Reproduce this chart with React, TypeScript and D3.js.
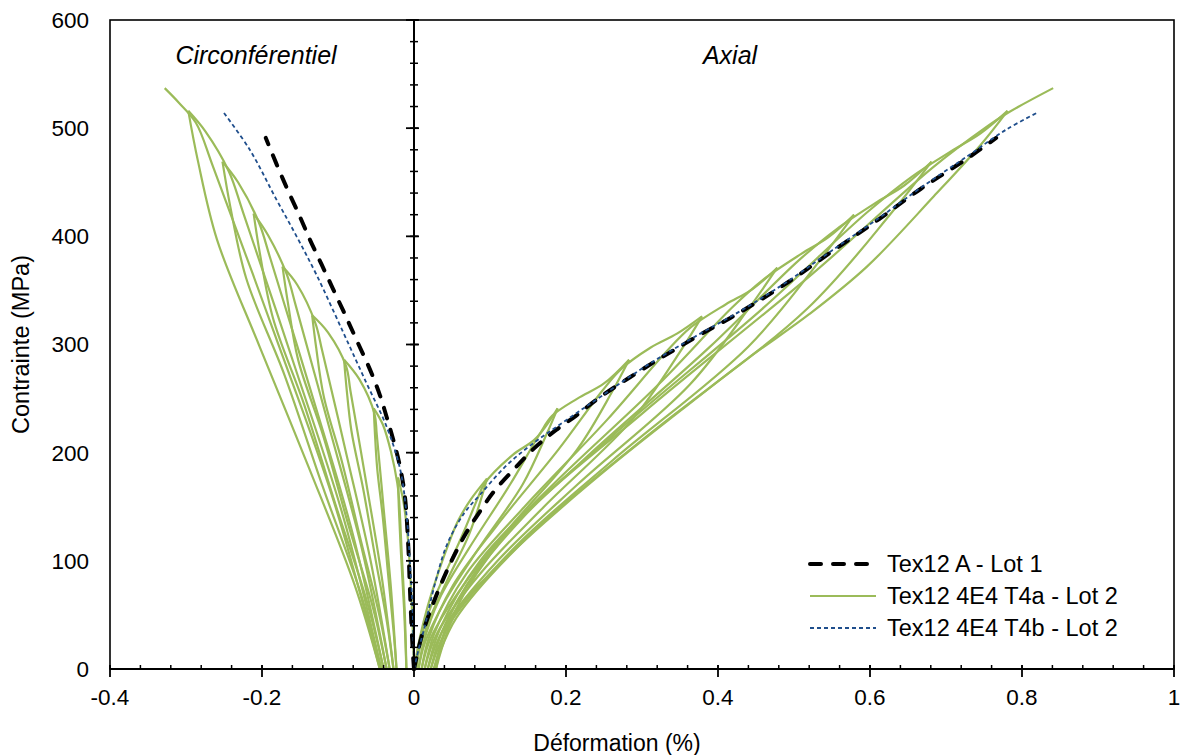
import React from "react";
import * as d3 from "d3";

type P = [number, number];

// ---------- axis ticks ----------
const xTickValues = [-0.4, -0.2, 0, 0.2, 0.4, 0.6, 0.8, 1];
const yTickValues = [0, 100, 200, 300, 400, 500, 600];

// ---------- Tex12 A - Lot 1 (black dashed) ----------
const lot1Axial: P[] = [
  [0, 0], [0.01, 30], [0.026, 62], [0.048, 98], [0.068, 125], [0.088, 147],
  [0.105, 164], [0.132, 185], [0.158, 204], [0.187, 221], [0.213, 234],
  [0.242, 250], [0.305, 279], [0.369, 306], [0.432, 331], [0.493, 358],
  [0.55, 386], [0.612, 416], [0.667, 444], [0.728, 472], [0.766, 491],
];
const lot1Circ: P[] = [
  [0, 0], [-0.0017, 17.5], [-0.0053, 73], [-0.0075, 113], [-0.0119, 159],
  [-0.0184, 187], [-0.0273, 212], [-0.036, 233], [-0.0448, 253], [-0.058, 277],
  [-0.0755, 304], [-0.091, 328], [-0.1063, 351], [-0.1216, 374], [-0.137, 397],
  [-0.15, 418], [-0.1656, 442], [-0.181, 467], [-0.195, 491],
];

// ---------- Tex12 4E4 T4b - Lot 2 (blue dotted) ----------
const t4bAxial: P[] = [
  [0, 0], [0.006, 18], [0.013, 36], [0.028, 80], [0.044, 116], [0.066, 144],
  [0.088, 162], [0.12, 187], [0.1537, 207], [0.2064, 233], [0.246, 252],
  [0.305, 280], [0.369, 307], [0.432, 332], [0.493, 359], [0.55, 387],
  [0.612, 417], [0.667, 445], [0.728, 474], [0.78, 499], [0.822, 515],
];
const t4bCirc: P[] = [
  [0, 0], [-0.0017, 52], [-0.0053, 98], [-0.0096, 141], [-0.018, 184],
  [-0.036, 224], [-0.0623, 264], [-0.093, 311], [-0.128, 364], [-0.1545, 400],
  [-0.181, 434], [-0.216, 480], [-0.25, 514],
];

// ---------- Tex12 4E4 T4a - Lot 2 (green, cyclic) : branches ----------
const t4aAxial: P[][] = [
  [[0, 0], [0.008, 30], [0.018, 58], [0.03, 85], [0.044, 113], [0.058, 137], [0.075, 157], [0.096, 176]],
  [[0.096, 176], [0.0886, 158], [0.0728, 125], [0.043, 81], [0.0216, 48], [0.0072, 18], [0.003, 0]],
  [[0.003, 0], [0.0063, 18], [0.017, 48], [0.0365, 81], [0.0644, 125], [0.0839, 158], [0.0923, 171], [0.13, 198], [0.16, 213], [0.189, 241]],
  [[0.189, 241], [0.1744, 217], [0.1433, 171], [0.0847, 111], [0.0426, 65], [0.0142, 24], [0.006, 0]],
  [[0.006, 0], [0.0124, 24], [0.0335, 65], [0.0719, 111], [0.1268, 171], [0.1652, 217], [0.1817, 234], [0.215, 250], [0.25, 264], [0.283, 286]],
  [[0.283, 286], [0.2612, 257], [0.2148, 203], [0.1274, 132], [0.0646, 77], [0.0223, 29], [0.01, 0]],
  [[0.01, 0], [0.0196, 29], [0.051, 77], [0.1083, 132], [0.1902, 203], [0.2475, 257], [0.2721, 277], [0.311, 297], [0.346, 310], [0.379, 326]],
  [[0.379, 326], [0.3498, 293], [0.2878, 231], [0.171, 150], [0.087, 88], [0.0304, 33], [0.014, 0]],
  [[0.014, 0], [0.0268, 33], [0.0688, 88], [0.1454, 150], [0.2549, 231], [0.3316, 293], [0.3644, 316], [0.41, 337], [0.445, 351], [0.478, 371]],
  [[0.478, 371], [0.4412, 334], [0.363, 263], [0.2158, 171], [0.11, 100], [0.0387, 37], [0.018, 0]],
  [[0.018, 0], [0.0341, 37], [0.087, 100], [0.1836, 171], [0.3216, 263], [0.4182, 334], [0.4596, 360], [0.51, 384], [0.545, 399], [0.579, 420]],
  [[0.579, 420], [0.5344, 378], [0.4398, 298], [0.2615, 193], [0.1334, 113], [0.0471, 42], [0.022, 0]],
  [[0.022, 0], [0.0415, 42], [0.1056, 113], [0.2225, 193], [0.3896, 298], [0.5066, 378], [0.5567, 407], [0.61, 432], [0.645, 447], [0.681, 469]],
  [[0.681, 469], [0.6286, 422], [0.5173, 333], [0.3077, 216], [0.157, 127], [0.0555, 47], [0.026, 0]],
  [[0.026, 0], [0.0489, 47], [0.1243, 127], [0.2618, 216], [0.4583, 333], [0.5959, 422], [0.6548, 455], [0.71, 480], [0.745, 495], [0.781, 516]],
  [[0.781, 516], [0.745, 484], [0.684, 437], [0.596, 372], [0.52, 328], [0.439, 287], [0.351, 239], [0.263, 190], [0.176, 138], [0.11, 95], [0.055, 52], [0.029, 0]],
  [[0.029, 0], [0.049, 52], [0.1418, 139], [0.3017, 237], [0.5253, 366], [0.6832, 464], [0.751, 500], [0.781, 514], [0.841, 537]],
];
const t4aCirc: P[][] = [
  [[0, 0], [-0.003, 60], [-0.008, 120], [-0.014, 155], [-0.021, 177]],
  [[-0.021, 177], [-0.02, 150], [-0.017, 105], [-0.013, 55], [-0.01, 0]],
  [[-0.01, 0], [-0.012, 50], [-0.016, 105], [-0.02, 160], [-0.022, 172], [-0.03, 200], [-0.041, 226], [-0.053, 241]],
  [[-0.053, 241], [-0.0515, 219], [-0.0485, 186], [-0.041, 140], [-0.034, 87], [-0.027, 36], [-0.023, 0]],
  [[-0.023, 0], [-0.03, 72], [-0.0395, 145], [-0.049, 217], [-0.052, 236], [-0.072, 268], [-0.092, 286]],
  [[-0.092, 286], [-0.0888, 260], [-0.0823, 220], [-0.0667, 166], [-0.051, 103], [-0.0355, 43], [-0.027, 0]],
  [[-0.027, 0], [-0.0426, 86], [-0.0628, 172], [-0.0836, 257], [-0.0894, 280], [-0.113, 311], [-0.134, 327]],
  [[-0.134, 327], [-0.1289, 298], [-0.1187, 252], [-0.0942, 190], [-0.0697, 118], [-0.0453, 49], [-0.032, 0]],
  [[-0.032, 0], [-0.0565, 98], [-0.0881, 196], [-0.1207, 294], [-0.1299, 320], [-0.1535, 355], [-0.173, 372]],
  [[-0.173, 372], [-0.166, 339], [-0.1525, 286], [-0.1196, 216], [-0.0867, 134], [-0.0538, 56], [-0.036, 0]],
  [[-0.036, 0], [-0.0689, 112], [-0.1114, 223], [-0.1552, 335], [-0.1675, 365], [-0.192, 401], [-0.211, 421]],
  [[-0.211, 421], [-0.2025, 383], [-0.1854, 324], [-0.1443, 244], [-0.1033, 152], [-0.0622, 63], [-0.04, 0]],
  [[-0.04, 0], [-0.081, 126], [-0.134, 253], [-0.1888, 379], [-0.2042, 413], [-0.2315, 450], [-0.252, 469]],
  [[-0.252, 469], [-0.2416, 427], [-0.2207, 361], [-0.1705, 272], [-0.1203, 169], [-0.0702, 70], [-0.043, 0]],
  [[-0.043, 0], [-0.0932, 141], [-0.158, 282], [-0.2248, 422], [-0.2436, 460], [-0.2745, 497], [-0.297, 516]],
  [[-0.297, 516], [-0.2844, 470], [-0.2592, 397], [-0.2037, 299], [-0.1382, 186], [-0.0778, 77], [-0.045, 0]],
  [[-0.045, 0], [-0.1055, 155], [-0.1836, 310], [-0.2642, 464], [-0.287, 505], [-0.31, 524], [-0.328, 537]],
];

const legendItems = [
  { label: "Tex12 A - Lot 1", kind: "lot1" },
  { label: "Tex12 4E4 T4a - Lot 2", kind: "t4a" },
  { label: "Tex12 4E4 T4b - Lot 2", kind: "t4b" },
];

const GREEN = "#9bbb59";
const BLUE = "#1f4e8c";
const FONT = "'Liberation Sans', Arial, sans-serif";

export default function App() {
  const x = d3.scaleLinear().domain([-0.4, 1]).range([110, 1174]);
  const y = d3.scaleLinear().domain([0, 600]).range([669, 20]);
  const line = d3
    .line<P>()
    .x((d) => x(d[0]))
    .y((d) => y(d[1]))
    .curve(d3.curveCatmullRom.alpha(0.5));

  const xMinor = d3.range(0, 36).map((i) => -0.4 + i * 0.04);
  const yMinor = d3.range(0, 31).map((i) => i * 20);
  const x0 = x(0);
  const yb = y(0);

  const styleOf = (kind: string) =>
    kind === "lot1"
      ? { stroke: "#000", strokeWidth: 4, strokeDasharray: "11 12", strokeLinecap: "round" as const }
      : kind === "t4a"
      ? { stroke: GREEN, strokeWidth: 2.2 }
      : { stroke: BLUE, strokeWidth: 1.8, strokeDasharray: "4 3" };

  return (
    <svg width={1184} height={755} style={{ display: "block", position: "absolute", left: 0, top: 0 }} fontFamily={FONT}>
      <rect width={1184} height={755} fill="#fff" />
      {/* green cyclic curves */}
      <g fill="none" stroke={GREEN} strokeWidth={2.2} strokeLinejoin="round">
        {t4aCirc.map((b, i) => (
          <path key={"c" + i} d={line(b) || ""} />
        ))}
        {t4aAxial.map((b, i) => (
          <path key={"a" + i} d={line(b) || ""} />
        ))}
      </g>
      {/* black dashed */}
      <g fill="none" {...styleOf("lot1")}>
        <path d={line(lot1Circ) || ""} />
        <path d={line(lot1Axial) || ""} />
      </g>
      {/* blue dotted */}
      <g fill="none" {...styleOf("t4b")}>
        <path d={line(t4bCirc) || ""} />
        <path d={line(t4bAxial) || ""} />
      </g>

      {/* frame */}
      <rect x={110} y={20} width={1064} height={649} fill="none" stroke="#000" strokeWidth={1.6} />
      {/* vertical axis at x=0 */}
      <line x1={x0} x2={x0} y1={y(600)} y2={yb} stroke="#000" strokeWidth={2} />
      {yMinor.map((v) => (
        <line key={"ym" + v} x1={x0 - 4} x2={x0 + 4} y1={y(v)} y2={y(v)} stroke="#000" strokeWidth={1.5} />
      ))}
      {yTickValues.map((v) => (
        <line key={"yM" + v} x1={x0 - 8} x2={x0 + 5} y1={y(v)} y2={y(v)} stroke="#000" strokeWidth={1.8} />
      ))}
      {/* horizontal axis */}
      <line x1={110} x2={1174} y1={yb} y2={yb} stroke="#000" strokeWidth={2} />
      {xMinor.map((v, i) => (
        <line key={"xm" + i} x1={x(v)} x2={x(v)} y1={yb - 4} y2={yb} stroke="#000" strokeWidth={1.5} />
      ))}
      {xTickValues.map((v) => (
        <line key={"xM" + v} x1={x(v)} x2={x(v)} y1={yb - 4} y2={yb + 8} stroke="#000" strokeWidth={1.8} />
      ))}

      {/* tick labels */}
      {yTickValues.map((v) => (
        <text key={"yl" + v} x={89} y={y(v)} dy="0.35em" textAnchor="end" fontSize={22.5} fill="#000">
          {String(v)}
        </text>
      ))}
      {xTickValues.map((v) => (
        <text key={"xl" + v} x={x(v)} y={705} textAnchor="middle" fontSize={22.5} fill="#000">
          {String(v)}
        </text>
      ))}

      {/* axis titles */}
      <text x={617} y={751} textAnchor="middle" fontSize={23} fill="#000">
        Déformation (%)
      </text>
      <text transform={`translate(29,${(20 + 669) / 2}) rotate(-90)`} textAnchor="middle" fontSize={23.5} fill="#000">
        Contrainte (MPa)
      </text>

      {/* region labels */}
      <text x={256} y={64} textAnchor="middle" fontSize={25} fontStyle="italic" fill="#000">
        Circonférentiel
      </text>
      <text x={730} y={64} textAnchor="middle" fontSize={25} fontStyle="italic" fill="#000">
        Axial
      </text>

      {/* legend */}
      {legendItems.map((it, i) => {
        const ly = 564 + i * 32;
        return (
          <g key={it.kind}>
            <line x1={810} x2={876} y1={ly} y2={ly} fill="none" {...styleOf(it.kind)} />
            <text x={887} y={ly} dy="0.35em" fontSize={23.5} fill="#000">
              {it.label}
            </text>
          </g>
        );
      })}
    </svg>
  );
}
